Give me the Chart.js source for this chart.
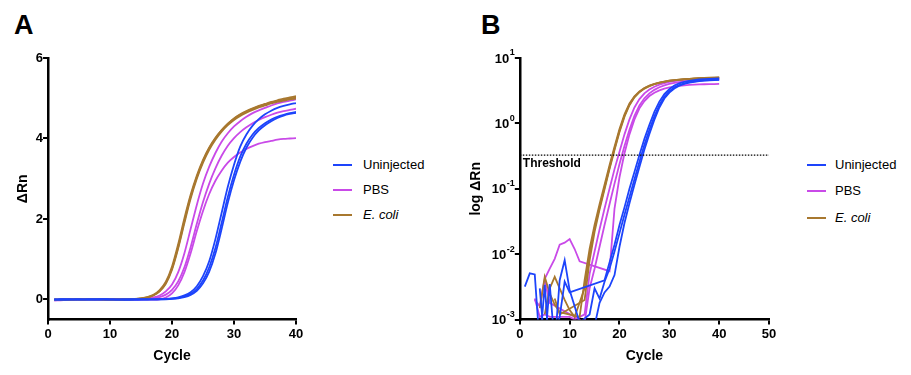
<!DOCTYPE html>
<html>
<head>
<meta charset="utf-8">
<script src="https://cdn.jsdelivr.net/npm/chart.js@4/dist/chart.umd.min.js"></script>
<style>
  body { margin: 0; background: #fff; width: 911px; height: 375px; position: relative; overflow: hidden;
         font-family: "Liberation Sans", Arial, sans-serif; }
  canvas { position: absolute; top: 0; }
  .tag { position: absolute; font-weight: bold; font-size: 27px; line-height: 1; }
  .key { position: absolute; font-size: 13px; white-space: nowrap; }
  .swatch { position: absolute; height: 2px; width: 19px; }
</style>
</head>
<body>
<div class="tag" style="left:14px; top:12px;">A</div>
<div class="tag" style="left:481px; top:12px;">B</div>
<canvas id="chartA" width="320" height="375" style="left:0px"></canvas>
<canvas id="chartB" width="345" height="375" style="left:440px"></canvas>
<div id="legendA"></div>
<div id="legendB"></div>

<script>
// Amplification data, delta Rn per cycle
const cycles = [1, 2, 3, 4, 5, 6, 7, 8, 9, 10, 11, 12, 13, 14, 15, 16, 17, 18, 19, 20,
                21, 22, 23, 24, 25, 26, 27, 28, 29, 30, 31, 32, 33, 34, 35, 36, 37, 38, 39, 40];

const uninjected1 = [0.0032, 0.0051, 0.0049, 0.0004, 0.0034, 0.0003, -0.0010, 0.0011, 0.0038, 0.0026,
                     -0.0012, -0.0020, -0.0015, -0.0008, -0.0011, -0.0006, 0.0040, 0.0075, 0.0140, 0.0280,
                     0.052, 0.100, 0.180, 0.330, 0.580, 0.950, 1.50, 2.15, 2.80, 3.35,
                     3.80, 4.10, 4.32, 4.48, 4.60, 4.69, 4.76, 4.81, 4.85, 4.88];
const uninjected2 = [-0.0020, -0.0010, -0.0008, 0.0030, 0.0004, 0.0035, 0.0004, 0.0040, 0.0081, 0.0028,
                     0.0016, 0.0009, -0.0010, 0.0012, 0.0030, 0.0021, 0.0038, 0.0060, 0.0110, 0.0210,
                     0.040, 0.075, 0.140, 0.260, 0.470, 0.800, 1.28, 1.90, 2.55, 3.10,
                     3.55, 3.87, 4.10, 4.26, 4.38, 4.47, 4.54, 4.59, 4.63, 4.66];
const uninjected3 = [-0.0015, -0.0022, -0.0005, -0.0012, -0.0008, -0.0014, 0.0008, -0.0010, -0.0006, -0.0012,
                     -0.0018, -0.0009, -0.0004, -0.0011, 0.0008, 0.0018, 0.0026, 0.0032, 0.0048, 0.0130,
                     0.030, 0.060, 0.115, 0.215, 0.400, 0.690, 1.14, 1.75, 2.40, 2.96,
                     3.42, 3.77, 4.02, 4.20, 4.33, 4.43, 4.51, 4.57, 4.61, 4.64];

const pbs1 = [-0.0100, -0.0080, 0.0021, 0.0011, 0.0012, 0.0011, 0.0011, 0.0011, 0.0011, 0.0011,
              0.0010, -0.0010, 0.0012, 0.0050, 0.011, 0.024, 0.050, 0.100, 0.200, 0.370,
              0.680, 1.15, 1.75, 2.35, 2.88, 3.30, 3.64, 3.92, 4.13, 4.30,
              4.43, 4.54, 4.63, 4.70, 4.76, 4.82, 4.87, 4.91, 4.94, 4.97];
const pbs2 = [-0.0250, -0.0200, -0.0120, -0.0060, 0.0040, 0.0018, -0.0010, -0.0020, -0.0015, -0.0008,
              -0.0012, -0.0005, 0.0009, 0.0030, 0.0060, 0.013, 0.028, 0.058, 0.120, 0.240,
              0.450, 0.800, 1.30, 1.88, 2.42, 2.88, 3.26, 3.57, 3.82, 4.01,
              4.16, 4.28, 4.38, 4.46, 4.53, 4.59, 4.64, 4.68, 4.71, 4.74];
const pbs3 = [-0.0020, -0.0012, 0.0020, 0.0016, 0.0042, 0.0060, 0.0085, 0.0140, 0.0150, 0.0170,
              0.0120, 0.0078, -0.0010, -0.0020, -0.0015, -0.0010, -0.0008, 0.0055, 0.050, 0.150,
              0.350, 0.680, 1.15, 1.70, 2.20, 2.62, 2.95, 3.20, 3.40, 3.54,
              3.65, 3.74, 3.81, 3.87, 3.91, 3.94, 3.97, 3.99, 4.00, 4.01];

const ecoli1 = [-0.0010, -0.0020, -0.0010, 0.0015, 0.0045, 0.0025, 0.0017, 0.0013, -0.0005, -0.0010,
                -0.0020, 0.0011, 0.0040, 0.0120, 0.028, 0.058, 0.115, 0.230, 0.440, 0.820,
                1.38, 2.02, 2.60, 3.08, 3.47, 3.78, 4.02, 4.21, 4.37, 4.50,
                4.60, 4.68, 4.75, 4.81, 4.86, 4.91, 4.95, 4.99, 5.02, 5.05];
const ecoli2 = [-0.0018, -0.0009, -0.0014, -0.0006, 0.0012, 0.0030, 0.0045, 0.0030, 0.0020, 0.0014,
                0.0011, -0.0010, 0.0030, 0.0100, 0.025, 0.052, 0.105, 0.210, 0.410, 0.770,
                1.31, 1.95, 2.55, 3.04, 3.44, 3.76, 4.00, 4.20, 4.36, 4.49,
                4.59, 4.67, 4.74, 4.80, 4.85, 4.89, 4.93, 4.96, 4.99, 5.02];
const ecoli3 = [-0.0012, -0.0016, -0.0020, -0.0009, -0.0011, -0.0004, 0.0021, 0.0012, -0.0008, -0.0015,
                -0.0010, -0.0006, 0.0020, 0.0080, 0.022, 0.048, 0.098, 0.200, 0.390, 0.740,
                1.27, 1.90, 2.50, 3.00, 3.40, 3.72, 3.97, 4.17, 4.33, 4.46,
                4.56, 4.64, 4.71, 4.77, 4.82, 4.87, 4.91, 4.94, 4.97, 4.99];

const groupNames = ["Uninjected", "PBS", "E. coli"];
const groupColors = ["#1d44fb", "#c94ae8", "#a8782f"];
const groupRuns = [[uninjected1, uninjected2, uninjected3], [pbs1, pbs2, pbs3], [ecoli1, ecoli2, ecoli3]];

const threshold = 0.327;
const yTicksA = [0, 2, 4, 6];
const xTicksA = [0, 10, 20, 30, 40];
const yTicksB = [0.001, 0.01, 0.1, 1, 10];
const xTicksB = [0, 10, 20, 30, 40, 50];

Chart.defaults.font.family = '"Liberation Sans", Arial, sans-serif';
Chart.defaults.color = "#000";

// blue drawn on top, then brown, then magenta
const drawOrder = [0, 2, 1];

function buildDatasets(isLog) {
    const sets = [];
    groupRuns.forEach((runs, g) => {
        runs.forEach(run => {
            sets.push({
                label: groupNames[g],
                data: run.map((v, i) => ({ x: cycles[i], y: (isLog && v <= 0) ? null : v })),
                borderColor: groupColors[g],
                borderWidth: 1.8,
                pointRadius: 0,
                tension: isLog ? 0 : 0.3,
                spanGaps: true,
                order: drawOrder[g],
            });
        });
    });
    return sets;
}

function axis(extra) {
    return Object.assign({
        grid: { drawOnChartArea: false, color: "#000", lineWidth: 2, tickLength: 5 },
        border: { color: "#000", width: 2.5 },
    }, extra);
}

const boldTicks = { size: 13, weight: "bold" };
const boldTitle = { size: 14, weight: "bold" };

const chartA = new Chart(document.getElementById("chartA"), {
    type: "line",
    data: { datasets: buildDatasets(false) },
    options: {
        responsive: false,
        animation: false,
        layout: { padding: { left: 11, top: 58, right: 24, bottom: 10 } },
        plugins: { legend: { display: false }, tooltip: { enabled: false } },
        scales: {
            x: axis({
                type: "linear", min: 0, max: 40,
                afterBuildTicks: s => { s.ticks = xTicksA.map(v => ({ value: v })); },
                ticks: { font: boldTicks, padding: 2 },
                title: { display: true, text: "Cycle", font: boldTitle, padding: { top: 4, bottom: 0 } },
            }),
            y: axis({
                type: "linear", min: -0.5, max: 6,
                afterBuildTicks: s => { s.ticks = yTicksA.map(v => ({ value: v })); },
                ticks: { font: boldTicks, padding: 0 },
                title: { display: true, text: "ΔRn", font: boldTitle, padding: 4 },
            }),
        },
    },
});

// draws 10^n labels and the threshold caption
const logLabels = {
    id: "logLabels",
    afterDraw(chart) {
        const ctx = chart.ctx;
        const y = chart.scales.y;
        const x = chart.scales.x;
        ctx.save();
        ctx.fillStyle = "#000";
        ctx.textAlign = "right";
        ctx.textBaseline = "middle";
        y.ticks.forEach(t => {
            const py = y.getPixelForValue(t.value);
            const exp = String(Math.round(Math.log10(t.value)));
            const right = y.right - 5;
            ctx.font = 'bold 9px "Liberation Sans"';
            const ew = ctx.measureText(exp).width;
            ctx.fillText(exp, right, py - 5);
            ctx.font = 'bold 13px "Liberation Sans"';
            ctx.fillText("10", right - ew - 0.5, py + 1);
        });
        ctx.textAlign = "left";
        ctx.textBaseline = "alphabetic";
        ctx.font = 'bold 12px "Liberation Sans"';
        ctx.fillText("Threshold", x.getPixelForValue(0) + 3, y.getPixelForValue(threshold) + 12);
        ctx.restore();
    },
};

const datasetsB = buildDatasets(true);
datasetsB.push({
    label: "Threshold",
    data: [{ x: 0, y: threshold }, { x: 50, y: threshold }],
    borderColor: "#000",
    borderWidth: 1.3,
    borderDash: [1.5, 1.5],
    pointRadius: 0,
    order: -1,
});

const chartB = new Chart(document.getElementById("chartB"), {
    type: "line",
    data: { datasets: datasetsB },
    options: {
        responsive: false,
        animation: false,
        layout: { padding: { left: 24, top: 58, right: 16, bottom: 10 } },
        plugins: { legend: { display: false }, tooltip: { enabled: false } },
        scales: {
            x: axis({
                type: "linear", min: 0, max: 50,
                afterBuildTicks: s => { s.ticks = xTicksB.map(v => ({ value: v })); },
                ticks: { font: boldTicks, padding: 2 },
                title: { display: true, text: "Cycle", font: boldTitle, padding: { top: 4, bottom: 0 } },
            }),
            y: axis({
                type: "logarithmic", min: 0.001, max: 10,
                afterBuildTicks: s => { s.ticks = yTicksB.map(v => ({ value: v })); },
                ticks: { font: boldTicks, padding: 0, color: "rgba(0,0,0,0)", callback: () => "10-3" },
                title: { display: true, text: "log ΔRn", font: boldTitle, padding: 4 },
            }),
        },
    },
    plugins: [logLabels],
});

// legends
function buildLegend(el, lineLeft, textLeft, rows) {
    groupNames.forEach((name, g) => {
        const sw = document.createElement("div");
        sw.className = "swatch";
        sw.style.left = lineLeft + "px";
        sw.style.top = (rows[g] - 1) + "px";
        sw.style.background = groupColors[g];
        el.appendChild(sw);
        const tx = document.createElement("div");
        tx.className = "key";
        tx.style.left = textLeft + "px";
        tx.style.top = (rows[g] - 8) + "px";
        tx.textContent = name;
        if (name === "E. coli") tx.style.fontStyle = "italic";
        el.appendChild(tx);
    });
}
buildLegend(document.getElementById("legendA"), 333, 363, [165, 190, 215]);
buildLegend(document.getElementById("legendB"), 807, 835, [165, 191, 218]);
</script>
</body>
</html>
